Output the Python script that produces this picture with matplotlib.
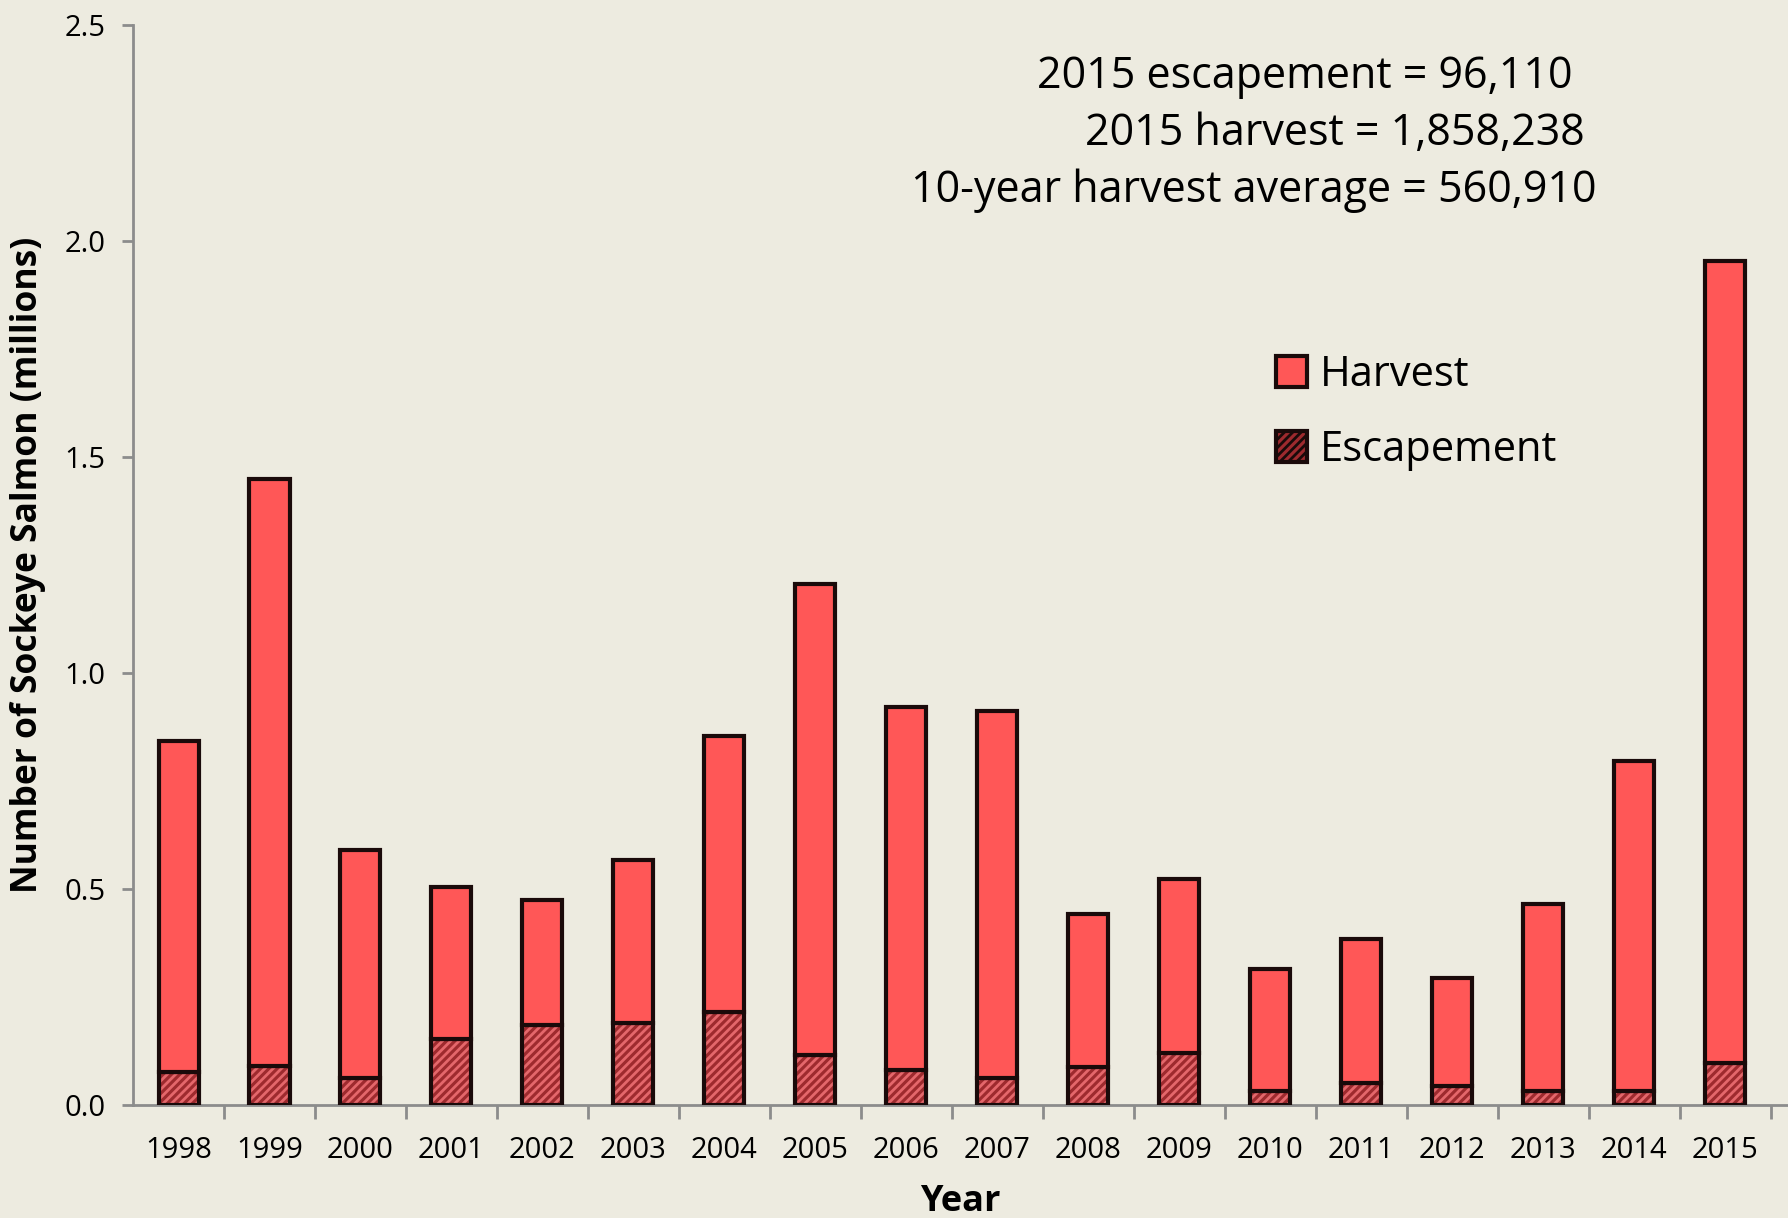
import matplotlib.pyplot as plt
import numpy as np
from matplotlib.patches import Patch

# Sockeye salmon, millions of fish
years = ["1998", "1999", "2000", "2001", "2002", "2003", "2004", "2005", "2006",
         "2007", "2008", "2009", "2010", "2011", "2012", "2013", "2014", "2015"]
escapement = [0.077, 0.090, 0.063, 0.153, 0.185, 0.190, 0.214, 0.116, 0.082,
              0.063, 0.087, 0.121, 0.032, 0.050, 0.045, 0.032, 0.032, 0.096]
total = [0.842, 1.449, 0.591, 0.504, 0.475, 0.568, 0.853, 1.206, 0.921,
         0.911, 0.443, 0.523, 0.314, 0.383, 0.293, 0.465, 0.797, 1.954]
harvest = [t - e for t, e in zip(total, escapement)]

notes = ["2015 escapement = 96,110",
         "2015 harvest = 1,858,238",
         "10-year harvest average = 560,910"]

plt.rcParams['font.family'] = ['Open Sans', 'DejaVu Sans']
plt.rcParams['hatch.linewidth'] = 2.0

bg = '#EDEBE0'
fig = plt.figure(figsize=(17.88, 12.18), dpi=100, facecolor=bg)
ax = fig.add_axes([0.0744, 0.0928, 0.9256, 0.887])
ax.set_facecolor(bg)

x = np.arange(len(years))
w = 0.44

# escapement: hatched fill, then black outline on top
ax.bar(x, escapement, w, color='#9E2A2E', edgecolor='#E4676B', hatch='////', linewidth=0, zorder=2)
ax.bar(x, escapement, w, fill=False, edgecolor='#1A0A0A', linewidth=3, zorder=3)
ax.bar(x, harvest, w, bottom=escapement, color='#FF5757', edgecolor='#1A0A0A', linewidth=3, zorder=3)

ax.set_xlim(-0.5, 17.69)
ax.set_ylim(0, 2.5)
ax.set_yticks([0.0, 0.5, 1.0, 1.5, 2.0, 2.5])
ax.set_yticklabels(["0.0", "0.5", "1.0", "1.5", "2.0", "2.5"])
ax.set_xticks(x)
ax.set_xticklabels(years)
ax.set_xticks(np.arange(0.5, 17.6, 1), minor=True)

for s in ['top', 'right']:
    ax.spines[s].set_visible(False)
for s in ['left', 'bottom']:
    ax.spines[s].set_color('#8C8C8C')
    ax.spines[s].set_linewidth(2)

ax.tick_params(axis='y', labelsize=21, length=8, width=2, color='#8C8C8C', pad=12)
ax.tick_params(axis='x', which='major', labelsize=21, length=0, pad=22)
ax.tick_params(axis='x', which='minor', length=10, width=2, color='#8C8C8C')

ax.set_ylabel("Number of Sockeye Salmon (millions)", fontsize=25.5, fontweight='bold', labelpad=13)
ax.set_xlabel("Year", fontsize=26, fontweight='bold', labelpad=14)

# summary text, upper right
ax.text(0.870, 0.952, notes[0], transform=ax.transAxes, ha='right', va='center', fontsize=31)
ax.text(0.877, 0.899, notes[1], transform=ax.transAxes, ha='right', va='center', fontsize=31)
ax.text(0.884, 0.846, notes[2], transform=ax.transAxes, ha='right', va='center', fontsize=31)

handles = [Patch(facecolor='#FF5757', edgecolor='#1A0A0A', linewidth=3),
           Patch(facecolor='#9E2A2E', edgecolor='#1A0A0A', hatch='////', linewidth=3)]
leg = ax.legend(handles, ["Harvest", "Escapement"], loc='upper left',
                bbox_to_anchor=(0.668, 0.73), frameon=False, fontsize=30,
                handlelength=0.75, handleheight=0.75, handletextpad=0.3, labelspacing=0.8)

fig.savefig("out.png", dpi=100, facecolor=bg)
